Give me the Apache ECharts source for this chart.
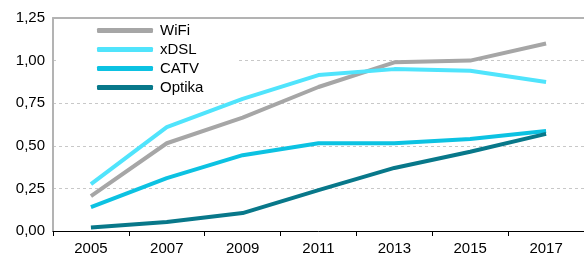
<!DOCTYPE html>
<html>
<head>
<meta charset="utf-8">
<script src="https://cdn.jsdelivr.net/npm/echarts@6/dist/echarts.min.js"></script>
<style>
  html, body { margin: 0; padding: 0; background: #fff; }
  #chart { width: 584px; height: 257px; }
</style>
</head>
<body>
<div id="chart"></div>
<script>
var years = ['2005', '2007', '2009', '2011', '2013', '2015', '2017'];
var wifi = [0.205, 0.515, 0.665, 0.845, 0.99, 1.0, 1.10];
var xdsl = [0.275, 0.61, 0.775, 0.915, 0.95, 0.94, 0.875];
var catv = [0.14, 0.31, 0.445, 0.515, 0.515, 0.54, 0.587];
var optika = [0.02, 0.053, 0.105, 0.24, 0.37, 0.465, 0.57];

function line(name, data, color) {
    return {
        name: name,
        type: 'line',
        data: data,
        symbol: 'none',
        lineStyle: {width: 4, color: color},
        itemStyle: {color: color}
    };
}

var option = {
    animation: false,
    textStyle: {fontFamily: 'Liberation Sans, Arial, sans-serif'},
    grid: {left: 53, right: 0, top: 18, bottom: 26},
    legend: {
        orient: 'vertical',
        left: 59,
        top: 20,
        padding: [3, 35, 3, 38],
        backgroundColor: '#fff',
        icon: 'roundRect',
        itemWidth: 56,
        itemHeight: 5,
        itemGap: 4,
        textStyle: {fontSize: 15, color: '#000', padding: [0, 0, 0, 2]},
        data: ['WiFi', 'xDSL', 'CATV', 'Optika']
    },
    xAxis: [
        {
            type: 'category',
            data: years,
            axisLine: {lineStyle: {color: '#000', width: 1}},
            axisTick: {show: true, length: 5, lineStyle: {color: '#000'}},
            axisLabel: {fontSize: 15, color: '#000', margin: 10}
        },
        {
            type: 'category',
            position: 'top',
            data: years,
            axisLine: {lineStyle: {color: '#b3b3b3', width: 2}},
            axisTick: {show: false},
            axisLabel: {show: false}
        }
    ],
    yAxis: {
        type: 'value',
        min: 0,
        max: 1.25,
        interval: 0.25,
        axisLine: {show: true, lineStyle: {color: '#b3b3b3', width: 2}},
        axisTick: {show: false},
        axisLabel: {
            fontSize: 15,
            color: '#000',
            margin: 8,
            formatter: function (v) { return v.toFixed(2).replace('.', ','); }
        },
        splitLine: {lineStyle: {color: '#c8c8c8', type: [3, 3], width: 1}}
    },
    series: [
        line('WiFi', wifi, '#a6a6a6'),
        line('xDSL', xdsl, '#50e4fc'),
        line('CATV', catv, '#0cc2e2'),
        line('Optika', optika, '#08788a')
    ]
};

var chart = echarts.init(document.getElementById('chart'));
chart.setOption(option);
</script>
</body>
</html>
